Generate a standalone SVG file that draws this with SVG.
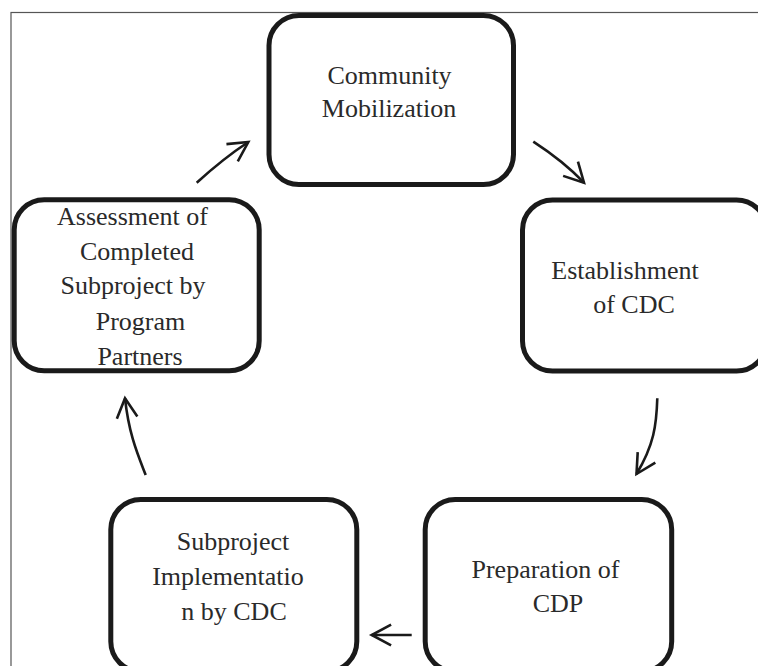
<svg xmlns="http://www.w3.org/2000/svg" width="758" height="666" viewBox="0 0 758 666" font-family="'Liberation Serif', 'Times New Roman', serif">
  <style>
    .frame { fill: none; stroke: #555; stroke-width: 1.2; }
    .box { fill: #fff; stroke: #1a1a1a; stroke-width: 5; }
    .lbl { font-family: 'Liberation Serif', 'Times New Roman', serif; font-size: 26px; fill: #2a2a2a; text-anchor: middle; }
    .arrow { fill: none; stroke: #1a1a1a; stroke-width: 2.6; marker-end: url(#head); }
  </style>
  <defs>
    <marker id="head" markerUnits="userSpaceOnUse" viewBox="-25 -15 30 30" refX="0" refY="0" markerWidth="30" markerHeight="30" orient="auto" overflow="visible">
      <path d="M-19.4,-10.3 L0,0 L-19.4,10.3" fill="none" stroke="#1a1a1a" stroke-width="2.6"/>
    </marker>
  </defs>
  <rect width="758" height="666" fill="#fff"/>
  <rect class="frame" x="11" y="12.5" width="800" height="720"/>

  <g id="connectors">
    <path class="arrow" d="M196.7,182.7 Q223.3,158.5 248.3,142"/>
    <path class="arrow" d="M533.3,141.7 Q563.2,161.1 584,182.7"/>
    <path class="arrow" d="M657.3,398.3 C656.5,425 654,445 636.5,474"/>
    <path class="arrow" d="M411.7,635 L371.7,635"/>
    <path class="arrow" d="M145.7,475 C138,455 129,435 125,398.3"/>
  </g>

  <g id="node-community-mobilization">
    <rect class="box" x="269" y="15.5" width="244.5" height="169" rx="30"/>
    <text class="lbl" x="389.5" y="84">Community</text>
    <text class="lbl" x="389" y="117">Mobilization</text>
  </g>

  <g id="node-establishment-cdc">
    <rect class="box" x="522.5" y="200" width="244" height="171" rx="30"/>
    <text class="lbl" x="625" y="279">Establishment</text>
    <text class="lbl" x="634" y="313">of CDC</text>
  </g>

  <g id="node-preparation-cdp">
    <rect class="box" x="425.2" y="499.5" width="246.5" height="172" rx="30"/>
    <text class="lbl" x="545.5" y="578">Preparation of</text>
    <text class="lbl" x="558" y="612">CDP</text>
  </g>

  <g id="node-subproject-implementation">
    <rect class="box" x="110.8" y="499.5" width="246" height="172" rx="30"/>
    <text class="lbl" x="233" y="550">Subproject</text>
    <text class="lbl" x="228" y="585">Implementatio</text>
    <text class="lbl" x="234" y="620">n by CDC</text>
  </g>

  <g id="node-assessment">
    <rect class="box" x="14.2" y="199.8" width="245" height="171" rx="30"/>
    <text class="lbl" x="132.5" y="225">Assessment of</text>
    <text class="lbl" x="137" y="260">Completed</text>
    <text class="lbl" x="133" y="294">Subproject by</text>
    <text class="lbl" x="140.5" y="330">Program</text>
    <text class="lbl" x="140" y="365">Partners</text>
  </g>
</svg>
